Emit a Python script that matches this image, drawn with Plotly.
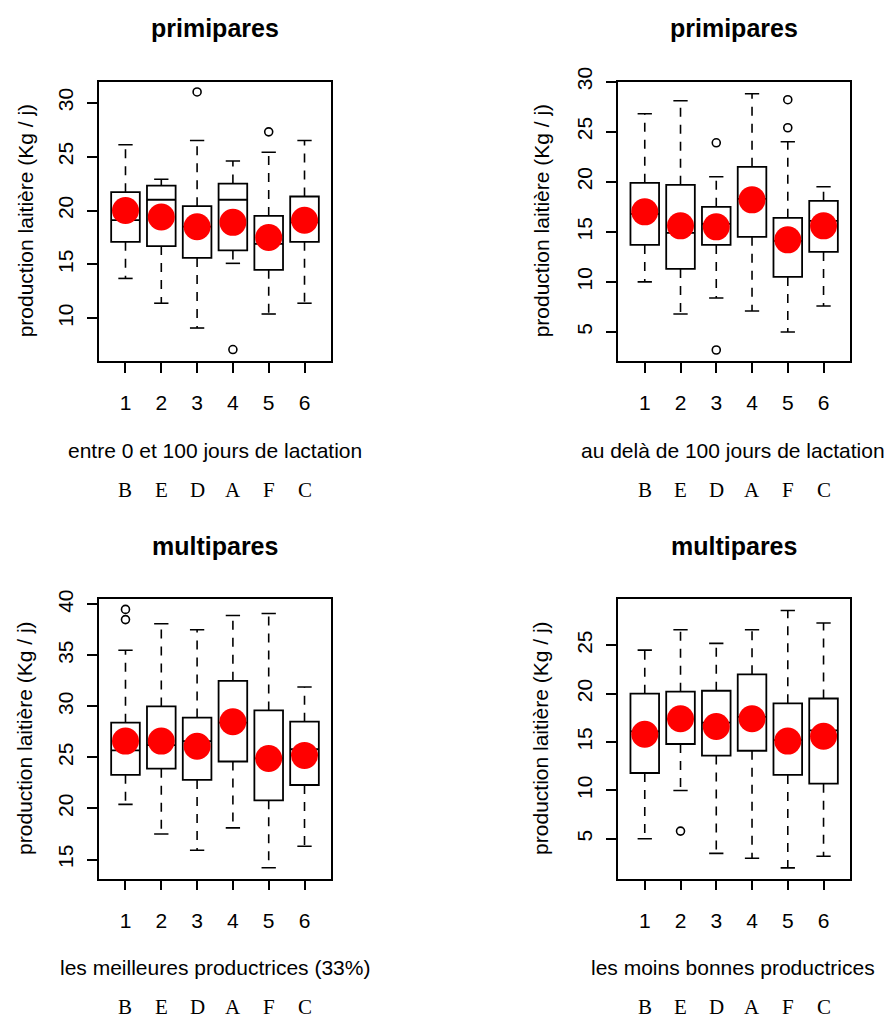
import plotly.graph_objects as go

# ---------------- data ----------------
groups = [1, 2, 3, 4, 5, 6]
group_labels = ["1", "2", "3", "4", "5", "6"]
group_letters = ["B", "E", "D", "A", "F", "C"]

titles = ["primipares", "primipares", "multipares", "multipares"]
xtitles = ["entre 0 et 100 jours de lactation",
           "au delà de 100 jours de lactation",
           "les meilleures productrices (33%)",
           "les moins bonnes productrices"]
ytitle = "production laitière (Kg / j)"

# panel 1 : primipares, 0-100 jours
p1_low = [13.7, 11.4, 9.1, 15.1, 10.4, 11.4]
p1_q1 = [17.1, 16.7, 15.6, 16.3, 14.5, 17.1]
p1_med = [19.1, 21.0, 18.5, 21.0, 16.9, 18.9]
p1_q3 = [21.7, 22.3, 20.4, 22.5, 19.5, 21.3]
p1_high = [26.1, 22.9, 26.5, 24.6, 25.4, 26.5]
p1_mean = [20.0, 19.4, 18.5, 18.9, 17.5, 19.1]
p1_out_x = [3, 4, 5]
p1_out_y = [31.0, 7.1, 27.3]
p1_yticks = [10, 15, 20, 25, 30]
p1_yrange = [6.04, 31.95]

# panel 2 : primipares, > 100 jours
p2_low = [10.0, 6.8, 8.4, 7.1, 5.0, 7.6]
p2_q1 = [13.7, 11.3, 13.7, 14.5, 10.5, 13.0]
p2_med = [16.8, 14.9, 15.8, 18.3, 14.1, 16.1]
p2_q3 = [19.9, 19.7, 17.5, 21.5, 16.4, 18.1]
p2_high = [26.8, 28.1, 20.5, 28.8, 24.0, 19.5]
p2_mean = [17.0, 15.6, 15.5, 18.2, 14.2, 15.6]
p2_out_x = [3, 3, 5, 5]
p2_out_y = [23.9, 3.2, 28.2, 25.4]
p2_yticks = [5, 10, 15, 20, 25, 30]
p2_yrange = [2.1, 30.0]

# panel 3 : multipares, meilleures productrices
p3_low = [20.4, 17.5, 15.9, 18.1, 14.2, 16.3]
p3_q1 = [23.3, 23.9, 22.8, 24.6, 20.8, 22.3]
p3_med = [25.7, 26.2, 26.6, 28.4, 24.9, 25.8]
p3_q3 = [28.4, 30.0, 28.9, 32.5, 29.6, 28.5]
p3_high = [35.5, 38.1, 37.5, 38.9, 39.1, 31.9]
p3_mean = [26.6, 26.6, 26.1, 28.5, 24.9, 25.2]
p3_out_x = [1, 1]
p3_out_y = [39.5, 38.5]
p3_yticks = [15, 20, 25, 30, 35, 40]
p3_yrange = [13.14, 40.49]

# panel 4 : multipares, moins bonnes productrices
p4_low = [5.0, 10.0, 3.5, 3.0, 2.0, 3.2]
p4_q1 = [11.8, 14.8, 13.6, 14.1, 11.6, 10.7]
p4_med = [16.1, 17.4, 17.0, 17.6, 15.2, 16.2]
p4_q3 = [20.0, 20.2, 20.3, 22.0, 19.0, 19.5]
p4_high = [24.5, 26.6, 25.2, 26.6, 28.6, 27.3]
p4_mean = [15.8, 17.4, 16.6, 17.4, 15.1, 15.6]
p4_out_x = [2]
p4_out_y = [5.8]
p4_yticks = [5, 10, 15, 20, 25]
p4_yrange = [0.9, 29.75]

panels = [
    (p1_low, p1_q1, p1_med, p1_q3, p1_high, p1_mean, p1_out_x, p1_out_y, p1_yticks, p1_yrange),
    (p2_low, p2_q1, p2_med, p2_q3, p2_high, p2_mean, p2_out_x, p2_out_y, p2_yticks, p2_yrange),
    (p3_low, p3_q1, p3_med, p3_q3, p3_high, p3_mean, p3_out_x, p3_out_y, p3_yticks, p3_yrange),
    (p4_low, p4_q1, p4_med, p4_q3, p4_high, p4_mean, p4_out_x, p4_out_y, p4_yticks, p4_yrange),
]

# ---------------- layout geometry ----------------
W, H = 884, 1019
x_domains = [[99 / W, 331 / W], [618.3 / W, 850 / W]]
y_domains = [[1 - 361 / H, 1 - 81.7 / H], [1 - 878.5 / H, 1 - 599.3 / H]]
title_y = [1 - 27.5 / H, 1 - 545.5 / H]
xtitle_y = [1 - 450 / H, 1 - 967 / H]
letters_y = [1 - 490 / H, 1 - 1006.5 / H]
ytitle_x = [25 / W, 541 / W]
xtitle_shift = [0, -1.5]

SANS = "Liberation Sans, Arial, sans-serif"
SERIF = "Liberation Serif, Times New Roman, serif"
BOXW = 0.8
STAPLE = 0.2

fig = go.Figure()
annotations = []

for i, (low, q1, med, q3, high, mean, ox, oy, yt, yr) in enumerate(panels):
    n = i + 1
    xa = "x" if n == 1 else f"x{n}"
    ya = "y" if n == 1 else f"y{n}"
    col = i % 2
    row = i // 2

    # whiskers (dashed)
    wx, wy = [], []
    for g, a, b, c, d in zip(groups, low, q1, q3, high):
        wx += [g, g, None, g, g, None]
        wy += [c, d, None, b, a, None]
    fig.add_trace(go.Scatter(x=wx, y=wy, mode="lines", xaxis=xa, yaxis=ya,
                             line=dict(color="black", width=1.6, dash="9px,8px"),
                             showlegend=False, hoverinfo="skip"))
    # staples
    sx, sy = [], []
    for g, a, d in zip(groups, low, high):
        sx += [g - STAPLE, g + STAPLE, None, g - STAPLE, g + STAPLE, None]
        sy += [d, d, None, a, a, None]
    fig.add_trace(go.Scatter(x=sx, y=sy, mode="lines", xaxis=xa, yaxis=ya,
                             line=dict(color="black", width=1.6),
                             showlegend=False, hoverinfo="skip"))
    # boxes
    fig.add_trace(go.Box(x=groups, q1=q1, median=med, q3=q3,
                         lowerfence=q1, upperfence=q3, width=BOXW,
                         xaxis=xa, yaxis=ya, boxpoints=False, whiskerwidth=0,
                         fillcolor="rgba(255,255,255,0)",
                         line=dict(color="black", width=1.8),
                         showlegend=False, hoverinfo="skip"))
    # outliers
    fig.add_trace(go.Scatter(x=ox, y=oy, mode="markers", xaxis=xa, yaxis=ya,
                             marker=dict(symbol="circle-open", size=8, color="black",
                                         line=dict(width=1.6, color="black")),
                             showlegend=False, hoverinfo="skip"))
    # means
    fig.add_trace(go.Scatter(x=groups, y=mean, mode="markers", xaxis=xa, yaxis=ya,
                             marker=dict(symbol="circle", size=27, color="#ff0000",
                                         line=dict(width=0)),
                             showlegend=False, hoverinfo="skip"))

    axis_common = dict(showline=True, mirror=True, linecolor="black", linewidth=1.8,
                       ticks="outside", ticklen=10, tickwidth=1.6, tickcolor="black",
                       showgrid=False, zeroline=False, automargin=False,
                       tickfont=dict(family=SANS, size=21, color="black"))
    fig.update_layout(**{
        ("xaxis" if n == 1 else f"xaxis{n}"): dict(
            domain=x_domains[col], range=[0.26, 6.74], anchor=ya,
            tickmode="array", tickvals=groups, ticktext=group_labels,
            ticklabelstandoff=12, **axis_common),
        ("yaxis" if n == 1 else f"yaxis{n}"): dict(
            domain=y_domains[row], range=yr, anchor=xa,
            tickmode="array", tickvals=yt, ticktext=[str(v) for v in yt],
            tickangle=-90, ticklabelstandoff=6, **axis_common),
    })

    xc = (x_domains[col][0] + x_domains[col][1]) / 2
    yc = (y_domains[row][0] + y_domains[row][1]) / 2
    annotations.append(dict(text=f"<b>{titles[i]}</b>", x=xc, y=title_y[row],
                            xref="paper", yref="paper", showarrow=False,
                            xanchor="center", yanchor="middle",
                            font=dict(family=SANS, size=25, color="black")))
    annotations.append(dict(text=xtitles[i], x=xc + xtitle_shift[col] / W, y=xtitle_y[row],
                            xref="paper", yref="paper", showarrow=False,
                            xanchor="center", yanchor="middle",
                            font=dict(family=SANS, size=21, color="black")))
    annotations.append(dict(text=ytitle, x=ytitle_x[col], y=yc, textangle=-90,
                            xref="paper", yref="paper", showarrow=False,
                            xanchor="center", yanchor="middle",
                            font=dict(family=SANS, size=21, color="black")))
    for g, letter in zip(groups, group_letters):
        annotations.append(dict(text=letter, x=g, y=letters_y[row],
                                xref=xa, yref="paper", showarrow=False,
                                xanchor="center", yanchor="middle",
                                font=dict(family=SERIF, size=21, color="black")))

fig.update_layout(width=W, height=H, margin=dict(l=0, r=0, t=0, b=0, autoexpand=False),
                  paper_bgcolor="white", plot_bgcolor="white",
                  showlegend=False, annotations=annotations)

post = ("document.documentElement.style.margin='0';"
        "document.body.style.margin='0';document.body.style.padding='0';"
        "document.documentElement.style.overflow='hidden';"
        "document.body.style.overflow='hidden';"
        "var d=document.getElementById('{plot_id}');"
        "d.style.position='fixed';d.style.top='0px';d.style.left='0px';"
        "d.style.margin='0';")
fig.write_html("out.html", post_script=post, config={"displayModeBar": False})
